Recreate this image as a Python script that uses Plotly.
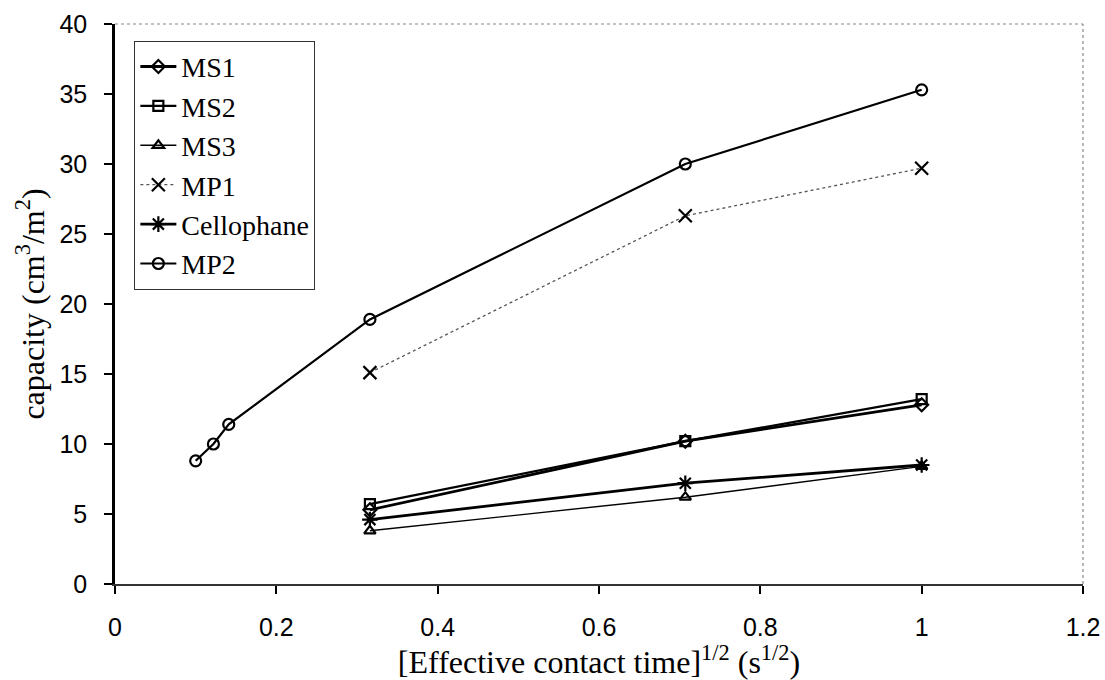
import plotly.graph_objects as go

x3 = [0.316, 0.707, 1.0]
x_mp2 = [0.1, 0.122, 0.141, 0.316, 0.707, 1.0]

ms1 = [5.3, 10.2, 12.8]
ms2 = [5.7, 10.2, 13.2]
ms3 = [3.8, 6.2, 8.4]
mp1 = [15.1, 26.3, 29.7]
cello = [4.6, 7.2, 8.5]
mp2 = [8.8, 10.0, 11.4, 18.9, 30.0, 35.3]

series = [
    ("MS1", x3, ms1, "diamond-open", dict(color="black", width=2.8), 10),
    ("MS2", x3, ms2, "square-open", dict(color="black", width=2.2), 10),
    ("MS3", x3, ms3, "triangle-up-open", dict(color="black", width=1.4), 10),
    ("MP1", x3, mp1, "x-thin-open", dict(color="#555555", width=1.3, dash="dot"), 13),
    ("Cellophane", x3, cello, "asterisk-open", dict(color="black", width=2.8), 13),
    ("MP2", x_mp2, mp2, "circle-open", dict(color="black", width=2.2), 11),
]

fig = go.Figure()
for name, xs, ys, sym, line, size in series:
    fig.add_trace(go.Scatter(
        x=xs, y=ys, name=name, mode="lines+markers",
        line=line,
        marker=dict(symbol=sym, size=size, color="black", line=dict(width=2.2, color="black")),
    ))

fig.update_layout(
    width=1105, height=680,
    margin=dict(l=115, r=22, t=24, b=96),
    paper_bgcolor="white", plot_bgcolor="white",
    showlegend=True,
    legend=dict(
        x=0.02, y=0.97, xanchor="left", yanchor="top",
        bordercolor="#333333", borderwidth=1, bgcolor="white",
        font=dict(family="Liberation Serif", size=28, color="black"),
        itemwidth=36, tracegroupgap=0,
    ),
    font=dict(family="Liberation Sans", color="black"),
    shapes=[
        dict(type="line", xref="paper", yref="paper", x0=0, x1=1, y0=1, y1=1,
             line=dict(color="#888888", width=1.2, dash="dot")),
        dict(type="line", xref="paper", yref="paper", x0=1, x1=1, y0=0, y1=1,
             line=dict(color="#888888", width=1.2, dash="dot")),
    ],
)
fig.update_xaxes(
    range=[0, 1.2], dtick=0.2, tick0=0, automargin=False,
    showgrid=False, zeroline=False,
    showline=True, linecolor="#333333", linewidth=2, mirror=False,
    ticks="outside", ticklen=8, tickwidth=1.5, tickcolor="black",
    ticklabelstandoff=12,
    tickfont=dict(family="Liberation Sans", size=25),
    title=dict(text="[Effective contact time]<sup>1/2</sup> (s<sup>1/2</sup>)",
               font=dict(family="Liberation Serif", size=32), standoff=9),
)
fig.update_yaxes(
    range=[0, 40], dtick=5, automargin=False,
    showgrid=False, zeroline=False,
    showline=True, linecolor="black", linewidth=2.5, mirror=False,
    ticks="outside", ticklen=8, tickwidth=1.5, tickcolor="black",
    ticklabelstandoff=12,
    tickfont=dict(family="Liberation Sans", size=25),
    title=dict(text="capacity (cm<sup>3</sup>/m<sup>2</sup>)",
               font=dict(family="Liberation Serif", size=32), standoff=6),
)

fig.write_html("out.html")
